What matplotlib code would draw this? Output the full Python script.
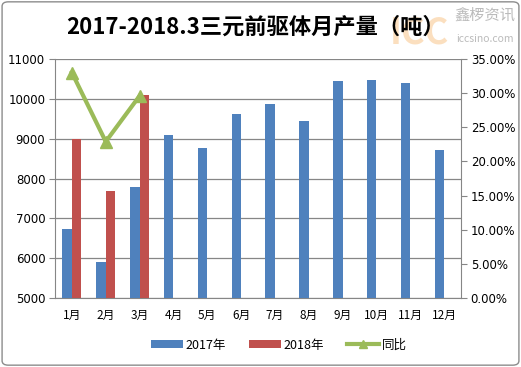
import numpy as np
import matplotlib.pyplot as plt
from matplotlib.patches import FancyBboxPatch
from matplotlib.lines import Line2D
from matplotlib.ticker import FuncFormatter

plt.rcParams['font.family'] = ['Noto Sans CJK SC', 'DejaVu Sans']

months = ['1月', '2月', '3月', '4月', '5月', '6月', '7月', '8月', '9月', '10月', '11月', '12月']
prod_2017 = [6730, 5900, 7790, 9090, 8770, 9620, 9870, 9440, 10450, 10470, 10400, 8720]
prod_2018 = [9000, 7690, 10100]
yoy = [0.330, 0.229, 0.296]

c17 = '#4F81BD'
c18 = '#C0504D'
cyoy = '#9BBB59'
gcol = '#868686'

fig = plt.figure(figsize=(5.21, 3.67), dpi=100)
fig.patches.append(FancyBboxPatch((0.004, 0.005), 0.992, 0.99, boxstyle='round,pad=0,rounding_size=0.012',
                                  transform=fig.transFigure, fill=False, edgecolor='#8c8c8c', lw=1.0))

# watermark (behind the title)
fig.text(0.805, 1-33/367, 'ICC', ha='center', va='center', fontsize=26, fontweight='bold',
         color='#F5A54A', alpha=0.35, zorder=0)
fig.text(0.93, 1-15/367, '鑫椤资讯', ha='center', va='center', fontsize=11, color='#bbbbbb', zorder=0)
fig.text(0.93, 1-39/367, 'iccsino.com', ha='center', va='center', fontsize=7.5, color='#bbbbbb', zorder=0)

ax = fig.add_axes([55/521, 1-298/367, 406/521, 239/367])
x = np.arange(len(months))
w = 0.28
ax.bar(x - w/2, prod_2017, w, color=c17, label='2017年', zorder=3)
ax.bar(x[:len(prod_2018)] + w/2, prod_2018, w, color=c18, label='2018年', zorder=3)
ax.set_ylim(5000, 11000)
ax.set_xlim(-0.5, 11.5)
ax.set_yticks(range(5000, 11001, 1000))
ax.grid(axis='y', color=gcol, lw=0.9, zorder=0)
ax.set_xticks(x)
ax.set_xticklabels(months, fontsize=8.5)
ax.tick_params(axis='x', length=0, pad=8)
ax.tick_params(axis='y', labelsize=8.5, length=4, color=gcol, pad=3)
for s in ['left', 'bottom']:
    ax.spines[s].set_color(gcol)
ax.spines['top'].set_visible(False)
ax.spines['right'].set_visible(False)
for t in ax.get_yticklabels():
    t.set_family('DejaVu Sans')

ax2 = ax.twinx()
ax2.plot(x[:len(yoy)], yoy, color=cyoy, lw=3, marker='^', ms=8, zorder=4)
ax2.set_ylim(0, 0.35)
ax2.set_yticks(np.arange(0, 0.3501, 0.05))
ax2.yaxis.set_major_formatter(FuncFormatter(lambda v, p: '%.2f%%' % (v*100)))
ax2.tick_params(axis='y', labelsize=8.5, length=4, color=gcol, pad=3)
for s in ['left', 'top', 'bottom']:
    ax2.spines[s].set_visible(False)
ax2.spines['right'].set_color(gcol)
for t in ax2.get_yticklabels():
    t.set_family('DejaVu Sans')

h1, l1 = ax.get_legend_handles_labels()
h_yoy = Line2D([], [], color=cyoy, lw=3, marker='^', ms=6)
fig.legend(h1 + [h_yoy], l1 + ['同比'], loc='center', bbox_to_anchor=(0.535, 1-345/367), ncol=3,
           frameon=False, fontsize=9, handlelength=2.6, handleheight=0.6, columnspacing=1.8,
           handletextpad=0.2)

fig.text(0.49, 1-27/367, '2017-2018.3三元前驱体月产量（吨）', ha='center', va='center',
         fontsize=16, fontweight='bold', zorder=2)

fig.savefig('out.png', dpi=100)
